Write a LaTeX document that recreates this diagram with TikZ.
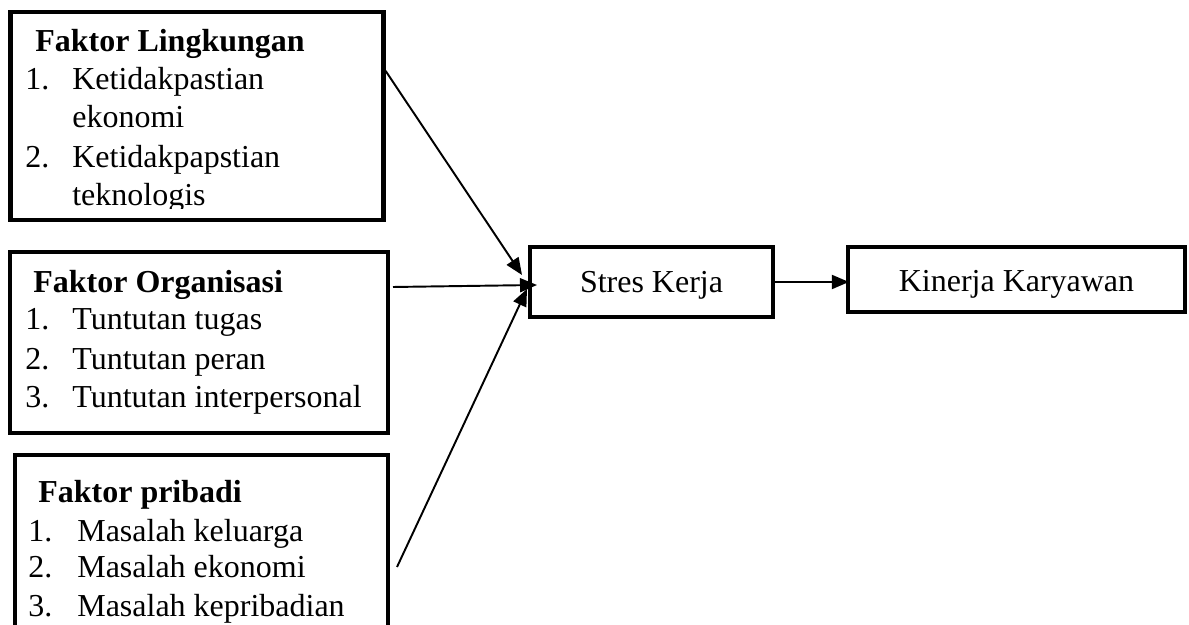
\documentclass[tikz,border=0pt]{standalone}
\usepackage{fontspec}
\setmainfont{Liberation Serif}
\usetikzlibrary{positioning, calc, arrows.meta}

\begin{document}
\begin{tikzpicture}[
    box/.style={draw, line width=2.4pt, inner sep=0pt},
    txt/.style={anchor=base west, inner sep=0pt, font=\fontsize{18.2}{21}\selectfont},
    link/.style={line width=1.1pt, -{Triangle[length=0.34cm, width=0.28cm]}}
  ]
  \useasboundingbox (0,0) rectangle (23.78,12.5);
  \clip (0,0) rectangle (23.78,12.5);

  % Boxes
  \node[box, minimum width=7.46cm, minimum height=4.16cm] (Lingkungan) at (3.94,10.18) {};
  \node[box, minimum width=7.56cm, minimum height=3.62cm] (Organisasi) at (3.98,5.65) {};
  \node[box, minimum width=7.46cm, minimum height=4.1cm] (Pribadi) at (4.03,1.35) {};
  \node[box, minimum width=4.86cm, minimum height=1.4cm, text height=0.56cm, text depth=0.12cm,
    font=\fontsize{18.2}{21}\selectfont] (Stres) at (13.03,6.86) {Stres Kerja};
  \node[box, minimum width=6.74cm, minimum height=1.3cm, text height=0.6cm, text depth=0.1cm,
    font=\fontsize{18.2}{21}\selectfont] (Kinerja) at (20.33,6.91) {Kinerja Karyawan};

  % Faktor Lingkungan (text cut short at the bottom)
  \begin{scope}
    \clip (0,8.33) rectangle (Lingkungan.north east);
    \node[txt] (LTitle) at (0.7,11.46) {\textbf{Faktor Lingkungan}};
    \node[txt] (LNum1) at (0.5,10.7) {1.};
    \node[txt] (LItem1) at (1.44,10.7) {Ketidakpastian};
    \node[txt] (LItem1b) at (1.44,9.94) {ekonomi};
    \node[txt] (LNum2) at (0.5,9.14) {2.};
    \node[txt] (LItem2) at (1.44,9.14) {Ketidakpapstian};
    \node[txt] (LItem2b) at (1.44,8.38) {teknologis};
  \end{scope}

  % Faktor Organisasi
  \node[txt] (OTitle) at (0.66,6.64) {\textbf{Faktor Organisasi}};
  \node[txt] (ONum1) at (0.5,5.9) {1.};
  \node[txt] (OItem1) at (1.44,5.9) {Tuntutan tugas};
  \node[txt] (ONum2) at (0.5,5.1) {2.};
  \node[txt] (OItem2) at (1.44,5.1) {Tuntutan peran};
  \node[txt] (ONum3) at (0.5,4.34) {3.};
  \node[txt] (OItem3) at (1.44,4.34) {Tuntutan interpersonal};

  % Faktor pribadi
  \node[txt] (PTitle) at (0.76,2.44) {\textbf{Faktor pribadi}};
  \node[txt] (PNum1) at (0.56,1.66) {1.};
  \node[txt] (PItem1) at (1.54,1.66) {Masalah keluarga};
  \node[txt] (PNum2) at (0.56,0.94) {2.};
  \node[txt] (PItem2) at (1.54,0.94) {Masalah ekonomi};
  \node[txt] (PNum3) at (0.56,0.16) {3.};
  \node[txt] (PItem3) at (1.54,0.16) {Masalah kepribadian};

  % Connectors
  \coordinate (LOut) at ($(Lingkungan.north east)+(0,-1.22)$);
  \coordinate (OOut) at (7.86,6.76);
  \coordinate (POut) at (7.94,1.16);
  \coordinate (LIn) at (10.44,7.0);
  \coordinate (OIn) at (10.74,6.8);
  \coordinate (PIn) at (10.54,6.72);
  \draw[link] (LOut) -- (LIn);
  \draw[link] (OOut) -- (OIn);
  \draw[link] (POut) -- (PIn);
  \draw[link] (Stres.east) -- ($(Stres.east -| Kinerja.west)+(0.06,0)$);
\end{tikzpicture}
\end{document}
